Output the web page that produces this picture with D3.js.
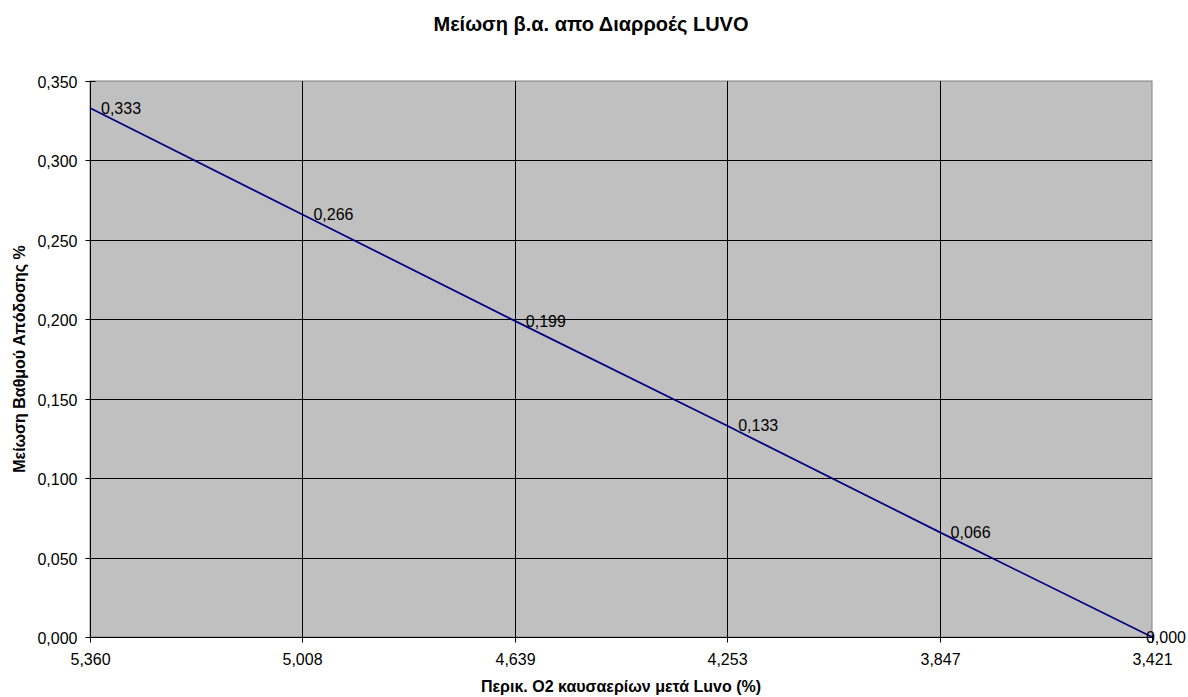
<!DOCTYPE html>
<html>
<head>
<meta charset="utf-8">
<script src="https://cdn.jsdelivr.net/npm/d3@7"></script>
<style>
  html, body { margin: 0; padding: 0; background: #fff; }
  svg { display: block; font-family: "Liberation Sans", Arial, sans-serif; }
</style>
</head>
<body>
<svg id="chart" width="1188" height="697"></svg>
<script>
// O2 content after LUVO (%) and efficiency reduction (%)
const categories = ["5,360", "5,008", "4,639", "4,253", "3,847", "3,421"];
const efficiencyLoss = [0.333, 0.266, 0.199, 0.133, 0.066, 0.000];
const yTicks = [0, 0.05, 0.10, 0.15, 0.20, 0.25, 0.30, 0.35];

const titleText = "Μείωση β.α. απο Διαρροές LUVO";
const xTitleText = "Περικ. Ο2 καυσαερίων μετά Luvo (%)";
const yTitleText = "Μείωση Βαθμού Απόδοσης %";

const W = 1188, H = 697;
const plot = { left: 90, right: 1152, top: 81, bottom: 637 };
const FONT = "Liberation Sans, Arial, sans-serif";

const svg = d3.select("#chart");
const fmt = v => d3.format(".3f")(v).replace(".", ",");

const x = d3.scalePoint().domain(categories).range([plot.left, plot.right]);
const y = d3.scaleLinear().domain([0, 0.35]).range([plot.bottom, plot.top]);

// plot background
svg.append("rect")
  .attr("x", plot.left).attr("y", plot.top)
  .attr("width", plot.right - plot.left).attr("height", plot.bottom - plot.top)
  .attr("fill", "#c0c0c0").attr("stroke", "#808080").attr("stroke-width", 1);

// horizontal gridlines
svg.append("g").selectAll("line").data(yTicks.slice(1, -1)).join("line")
  .attr("x1", plot.left).attr("x2", plot.right)
  .attr("y1", d => Math.round(y(d)) + 0.5).attr("y2", d => Math.round(y(d)) + 0.5)
  .attr("stroke", "#000").attr("stroke-width", 1);

// vertical gridlines
svg.append("g").selectAll("line").data(categories.slice(1, -1)).join("line")
  .attr("x1", d => Math.round(x(d)) + 0.5).attr("x2", d => Math.round(x(d)) + 0.5)
  .attr("y1", plot.top).attr("y2", plot.bottom)
  .attr("stroke", "#000").attr("stroke-width", 1);

// y axis (ticks cross the axis line)
const yAxis = svg.append("g")
  .attr("transform", `translate(${plot.left + 0.5},0)`)
  .call(d3.axisLeft(y).tickValues(yTicks).tickFormat(fmt).tickSize(5).tickPadding(8));
yAxis.select(".domain").attr("stroke", "#000").attr("d", `M0,${plot.top}V${plot.bottom}`);
yAxis.selectAll(".tick line").attr("stroke", "#000").attr("x1", 5)
  .attr("transform", function() { return null; });
yAxis.selectAll(".tick").attr("transform", d => `translate(0,${Math.round(y(d)) + 0.5})`);
yAxis.selectAll(".tick text").attr("font-size", 16).attr("fill", "#000")
  .attr("font-family", FONT).attr("dy", "0.4em");

// x axis
const xAxis = svg.append("g")
  .attr("transform", `translate(0,${plot.bottom + 0.5})`)
  .call(d3.axisBottom(x).tickSize(5).tickPadding(11));
xAxis.select(".domain").attr("stroke", "#000").attr("d", `M${plot.left},0H${plot.right}`);
xAxis.selectAll(".tick").attr("transform", d => `translate(${Math.round(x(d)) + 0.5},0)`);
xAxis.selectAll(".tick line").attr("stroke", "#000").attr("y1", -3);
xAxis.selectAll(".tick text").attr("font-size", 16).attr("fill", "#000")
  .attr("font-family", FONT);

// series line
const line = d3.line()
  .x((d, i) => x(categories[i]))
  .y(d => y(d));
svg.append("path").datum(efficiencyLoss)
  .attr("d", line)
  .attr("fill", "none").attr("stroke", "#000080").attr("stroke-width", 1.75);

// data labels, kept inside the chart area
const labels = svg.append("g").selectAll("text").data(efficiencyLoss).join("text")
  .attr("y", d => y(d))
  .attr("dy", "0.36em")
  .attr("font-size", 16).attr("fill", "#000")
  .text(d => fmt(d));
labels.each(function(d, i) {
  const w = this.getComputedTextLength();
  const px = x(categories[i]) + 11;
  d3.select(this).attr("x", Math.min(px, W - 2 - w));
});

// titles
svg.append("text").attr("x", 591).attr("y", 31)
  .attr("text-anchor", "middle").attr("font-size", 20).attr("font-weight", "bold")
  .text(titleText);
svg.append("text").attr("x", (plot.left + plot.right) / 2).attr("y", 692)
  .attr("text-anchor", "middle").attr("font-size", 16).attr("font-weight", "bold")
  .text(xTitleText);
svg.append("text")
  .attr("transform", `translate(25,${(plot.top + plot.bottom) / 2}) rotate(-90)`)
  .attr("text-anchor", "middle").attr("font-size", 16).attr("font-weight", "bold")
  .text(yTitleText);
</script>
</body>
</html>
